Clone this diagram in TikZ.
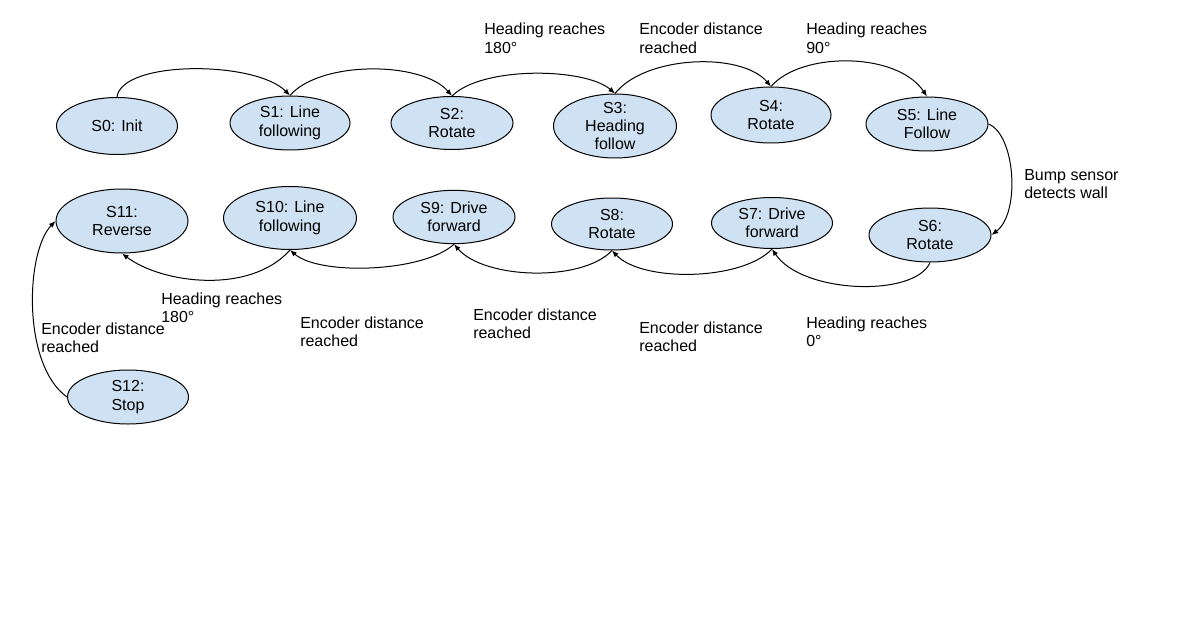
\documentclass[tikz,border=0pt]{standalone}
\usepackage{fontspec}
\setmainfont{Liberation Sans}
\usetikzlibrary{arrows.meta,shapes.geometric}
\definecolor{stfill}{HTML}{CFE2F3}
\tikzset{
  state/.style={ellipse, draw=black, line width=0.75pt, fill=stfill, inner sep=-8pt, align=center},
  arr/.style={line width=0.75pt, -{Latex[length=5pt,width=4pt]}},
  lbl/.style={anchor=base west, align=left, inner sep=0pt},
}
\begin{document}
\begin{tikzpicture}[x=0.75pt, y=-0.75pt, every node/.append style={font=\fontsize{12}{13.8}\selectfont}]
\fill[white] (0,0) rectangle (1198,624);
\path[use as bounding box] (0,0) rectangle (1198,624);

% top row
\node[state, minimum width=90.75pt, minimum height=42.75pt] (S0) at (117,126) {S0: Init};
\node[state, minimum width=90pt, minimum height=40.5pt] (S1) at (290,123) {S1: Line\\following};
\node[state, minimum width=91.5pt, minimum height=39.75pt] (S2) at (452,123) {S2:\\Rotate};
\node[state, minimum width=92.25pt, minimum height=48pt] (S3) at (615,126) {S3:\\Heading\\follow};
\node[state, minimum width=90pt, minimum height=42pt] (S4) at (771,115) {S4:\\Rotate};
\node[state, minimum width=91.5pt, minimum height=40.5pt] (S5) at (927,124) {S5: Line\\Follow};
% bottom row
\node[state, minimum width=91.5pt, minimum height=40.5pt] (S6) at (930,235) {S6:\\Rotate};
\node[state, minimum width=90.75pt, minimum height=38.25pt] (S7) at (772,223) {S7: Drive\\forward};
\node[state, minimum width=90.75pt, minimum height=39pt] (S8) at (612,224) {S8:\\Rotate};
\node[state, minimum width=91.5pt, minimum height=40pt] (S9) at (454,217) {S9: Drive\\forward};
\node[state, minimum width=99.75pt, minimum height=47.25pt] (S10) at (290,218) {S10: Line\\following};
\node[state, minimum width=99pt, minimum height=48pt] (S11) at (122,221) {S11:\\Reverse};
\node[state, minimum width=90.75pt, minimum height=40.5pt] (S12) at (128,397) {S12:\\Stop};

% transitions
\draw[arr] (S0.north) .. controls +(5,-37) and +(-35,-35) .. (S1.north);
\draw[arr] (S1.north) .. controls +(30,-35) and +(-30,-35) .. (S2.north);
\draw[arr] (S2.north) .. controls +(30,-30) and +(-30,-26) .. (S3.north);
\draw[arr] (S3.north) .. controls +(30,-38) and +(-30,-35) .. (S4.north);
\draw[arr] (S4.north) .. controls +(30,-35) and +(-30,-45) .. (S5.north);
\draw[arr] (S5.east) .. controls +(27,11) and +(29,-22) .. (S6.east);
\draw[arr] (S6.south) .. controls +(-15,35) and +(30,45) .. (S7.south);
\draw[arr] (S7.south) .. controls +(-30,32) and +(30,32) .. (S8.south);
\draw[arr] (S8.south) .. controls +(-30,32) and +(30,35) .. (S9.south);
\draw[arr] (S9.south) .. controls +(-30,28) and +(30,26) .. (S10.south);
\draw[arr] (S10.south) .. controls +(-40,45) and +(40,30) .. (S11.south);
\draw[arr] (S12.west) .. controls +(-45,-32) and +(-30,31) .. (S11.west);

% labels
\node[lbl] (L1) at (484,53.4) {Heading reaches\\180°};
\node[lbl] (L2) at (639,53.4) {Encoder distance\\reached};
\node[lbl] (L3) at (806,53.4) {Heading reaches\\90°};
\node[lbl] (L4) at (1024,198.4) {Bump sensor\\detects wall};
\node[lbl] (L5) at (161,322.4) {Heading reaches\\180°};
\node[lbl] (L6) at (41,352.4) {Encoder distance\\reached};
\node[lbl] (L7) at (300,346.4) {Encoder distance\\reached};
\node[lbl] (L8) at (473,338.4) {Encoder distance\\reached};
\node[lbl] (L9) at (639,351.4) {Encoder distance\\reached};
\node[lbl] (L10) at (806,346.4) {Heading reaches\\0°};
\end{tikzpicture}
\end{document}
